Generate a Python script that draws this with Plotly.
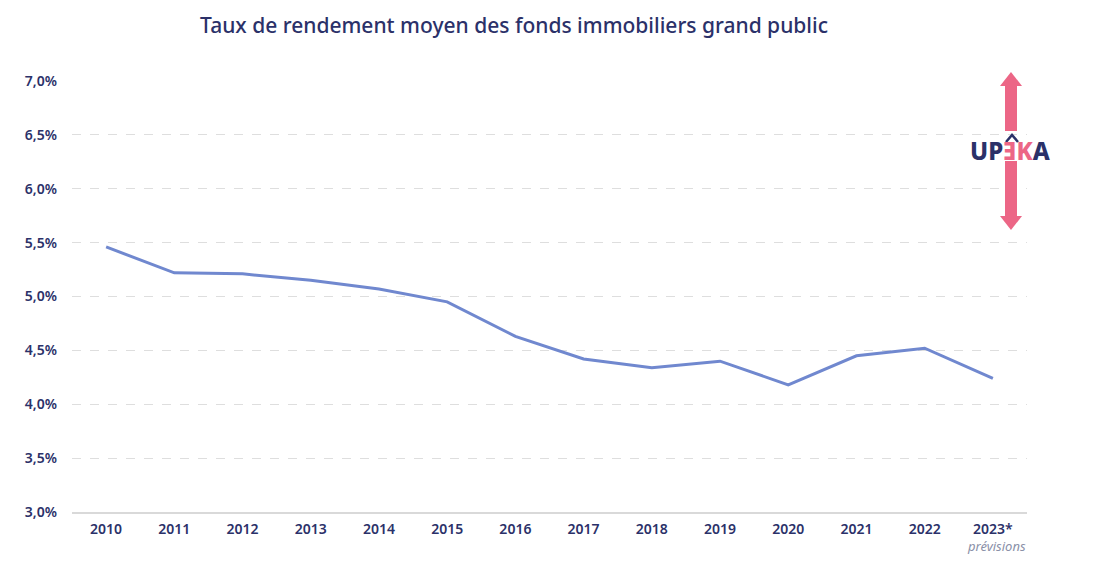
import plotly.graph_objects as go

years = ["2010", "2011", "2012", "2013", "2014", "2015", "2016",
         "2017", "2018", "2019", "2020", "2021", "2022", "2023*"]
rendement = [5.46, 5.22, 5.21, 5.15, 5.07, 4.95, 4.63,
             4.42, 4.34, 4.40, 4.18, 4.45, 4.52, 4.24]
y_ticks = [3.0, 3.5, 4.0, 4.5, 5.0, 5.5, 6.0, 6.5, 7.0]
y_ticktext = ["3,0%", "3,5%", "4,0%", "4,5%", "5,0%", "5,5%", "6,0%", "6,5%", "7,0%"]

NAVY = "#2b3169"
PINK = "#ec6686"
LINE = "#7088cf"
FONT = "Noto Sans"

W, H = 1100, 566
L, R, T, B = 72, 73, 81, 54
PW, PH = W - L - R, H - T - B


def px(x):
    return (x - L) / PW


def py(y):
    return (H - B - y) / PH


fig = go.Figure()
fig.add_trace(go.Scatter(
    x=years, y=rendement, mode="lines",
    line=dict(color=LINE, width=3),
    hoverinfo="skip", showlegend=False,
))

shapes = []
cx = 1011
shapes.append(dict(type="path", xref="paper", yref="paper",
                   path=f"M {px(cx)} {py(72)} L {px(cx-11)} {py(86)} L {px(cx+11)} {py(86)} Z",
                   fillcolor=PINK, line=dict(width=0)))
shapes.append(dict(type="rect", xref="paper", yref="paper",
                   x0=px(cx-6), x1=px(cx+6), y0=py(86), y1=py(131),
                   fillcolor=PINK, line=dict(width=0)))
shapes.append(dict(type="rect", xref="paper", yref="paper",
                   x0=px(cx-6), x1=px(cx+6), y0=py(161), y1=py(216),
                   fillcolor=PINK, line=dict(width=0)))
shapes.append(dict(type="path", xref="paper", yref="paper",
                   path=f"M {px(cx)} {py(230)} L {px(cx-11)} {py(216)} L {px(cx+11)} {py(216)} Z",
                   fillcolor=PINK, line=dict(width=0)))
shapes.append(dict(type="path", xref="paper", yref="paper",
                   path=f"M {px(1006)} {py(142)} L {px(1012)} {py(135)} L {px(1018)} {py(142)}",
                   line=dict(color=NAVY, width=2.5)))

annotations = [
    dict(xref="paper", yref="paper", x=px(1010), y=py(150),
         text=(f"<span style='color:{NAVY}'>UP</span>"
               f"<span style='color:{PINK}'>ƎK</span>"
               f"<span style='color:{NAVY}'>A</span>"),
         showarrow=False, xanchor="center", yanchor="middle",
         font=dict(family=FONT, size=24, weight=800)),
    dict(xref="paper", yref="paper", x=px(996), y=py(546),
         text="<i>prévisions</i>", showarrow=False,
         xanchor="center", yanchor="middle",
         font=dict(family=FONT, size=13, color="#8a90a8")),
]

fig.update_layout(
    width=W, height=H,
    margin=dict(l=L, r=R, t=T, b=B),
    paper_bgcolor="white", plot_bgcolor="white",
    title=dict(text="Taux de rendement moyen des fonds immobiliers grand public",
               x=514 / W, xanchor="center", y=1 - 26 / H, yanchor="middle",
               font=dict(family=FONT, size=21, color=NAVY, weight=500)),
    xaxis=dict(type="category", range=[-0.5, 13.5], showgrid=False,
               showline=True, linecolor="#d9d9d9", linewidth=1.5,
               ticks="", ticklabelstandoff=3,
               tickfont=dict(family=FONT, size=14, color=NAVY, weight=600),
               fixedrange=True),
    yaxis=dict(range=[3.0, 7.0], tickvals=y_ticks, ticktext=y_ticktext,
               showgrid=True, gridcolor="#dedede",
               griddash="dash", gridwidth=1, zeroline=False, showline=False,
               ticks="", ticklabelstandoff=14,
               tickfont=dict(family=FONT, size=14, color=NAVY, weight=600),
               fixedrange=True),
    shapes=shapes,
    annotations=annotations,
)

fig.write_html("out.html", config={"displayModeBar": False},
               post_script="document.body.style.margin='0';")
